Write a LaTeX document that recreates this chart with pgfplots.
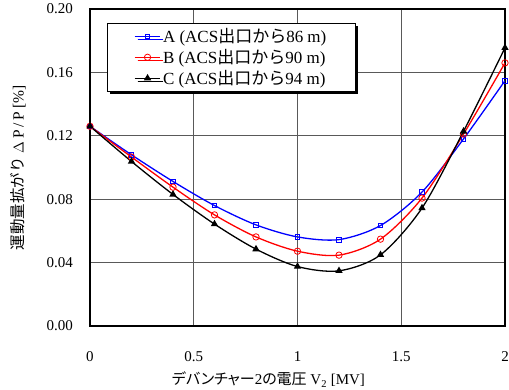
\documentclass[border=0pt]{standalone}
\usepackage{fontspec}
\setmainfont{Liberation Serif}
\newfontfamily\jp[RawFeature=+palt]{Noto Sans CJK JP}
\newfontfamily\jpf{Noto Sans CJK JP}
\usepackage{pgfplots}
\pgfplotsset{compat=1.18}
\usetikzlibrary{shadows}
\begin{document}
\fontsize{15}{18}\selectfont
\begin{tikzpicture}[font=\fontsize{15}{18}\selectfont]
\useasboundingbox (-90pt,-64pt) rectangle (419pt,326pt);
\begin{axis}[
  scale only axis,
  width=415pt, height=317pt,
  xmin=0, xmax=2, ymin=0, ymax=0.2,
  xtick={0,0.5,1,1.5,2},
  ytick={0,0.04,0.08,0.12,0.16,0.20},
  /pgf/number format/assume math mode=true,
  yticklabel style={/pgf/number format/fixed, /pgf/number format/fixed zerofill, /pgf/number format/precision=2, xshift=-12pt},
  xticklabel style={yshift=-20pt},
  grid=major,
  major grid style={solid, line width=0.8pt, black!65},
  axis line style={line width=1.5pt},
  tick style={draw=none},
  xlabel={{\jp デバンチャー}2{\jp の電圧} V\textsubscript{2} [MV]},
  xlabel style={at={(axis description cs:0.43,0)}, anchor=north, yshift=-41pt},
  ylabel={{\jpf 運動量拡がり} $\Delta$\,P\,/\,P [\%]},
  ylabel style={at={(axis description cs:0,0.5)}, anchor=center, yshift=72pt, font=\fontsize{15.5}{18}\selectfont},
  legend style={at={(rel axis cs:0.04,0.957)}, anchor=north west, draw=black, line width=1pt,
    fill=white, drop shadow={shadow xshift=3pt, shadow yshift=-3pt, fill=black, opacity=1},
    font=\fontsize{17}{19}\selectfont, row sep=0.5pt, inner xsep=27pt, inner ysep=3pt},
  legend cell align=left,
  legend image code/.code={\draw[mark repeat=2,mark phase=2] plot coordinates {(0cm,0cm)(0.45cm,0cm)(0.9cm,0cm)};},
]
\addplot[blue, line width=1.3pt, smooth, mark=square, mark size=2.3pt, mark options={solid, fill=white, line width=0.8pt}]
coordinates {(0,0.126)(0.2,0.108)(0.4,0.0912)(0.6,0.076)(0.8,0.0638)(1.0,0.0562)(1.2,0.0545)(1.4,0.0634)(1.6,0.0845)(1.8,0.118)(2.0,0.1548)};
\addlegendentry{A (ACS{\jpf 出口から}86 m)}
\addplot[red, line width=1.3pt, smooth, mark=o, mark size=3.2pt, mark options={solid, fill=white, line width=0.8pt}]
coordinates {(0,0.126)(0.2,0.1066)(0.4,0.0876)(0.6,0.0701)(0.8,0.0562)(1.0,0.0472)(1.2,0.0447)(1.4,0.0548)(1.6,0.0807)(1.8,0.1211)(2.0,0.166)};
\addlegendentry{B (ACS{\jpf 出口から}90 m)}
\addplot[black, line width=1.3pt, smooth, mark=triangle*, mark size=3pt, mark options={solid, fill=black}]
coordinates {(0,0.126)(0.2,0.1038)(0.4,0.083)(0.6,0.0643)(0.8,0.0485)(1.0,0.0375)(1.2,0.0348)(1.4,0.0449)(1.6,0.0744)(1.8,0.1228)(2.0,0.1755)};
\addlegendentry{C (ACS{\jpf 出口から}94 m)}
\end{axis}
\end{tikzpicture}
\end{document}
